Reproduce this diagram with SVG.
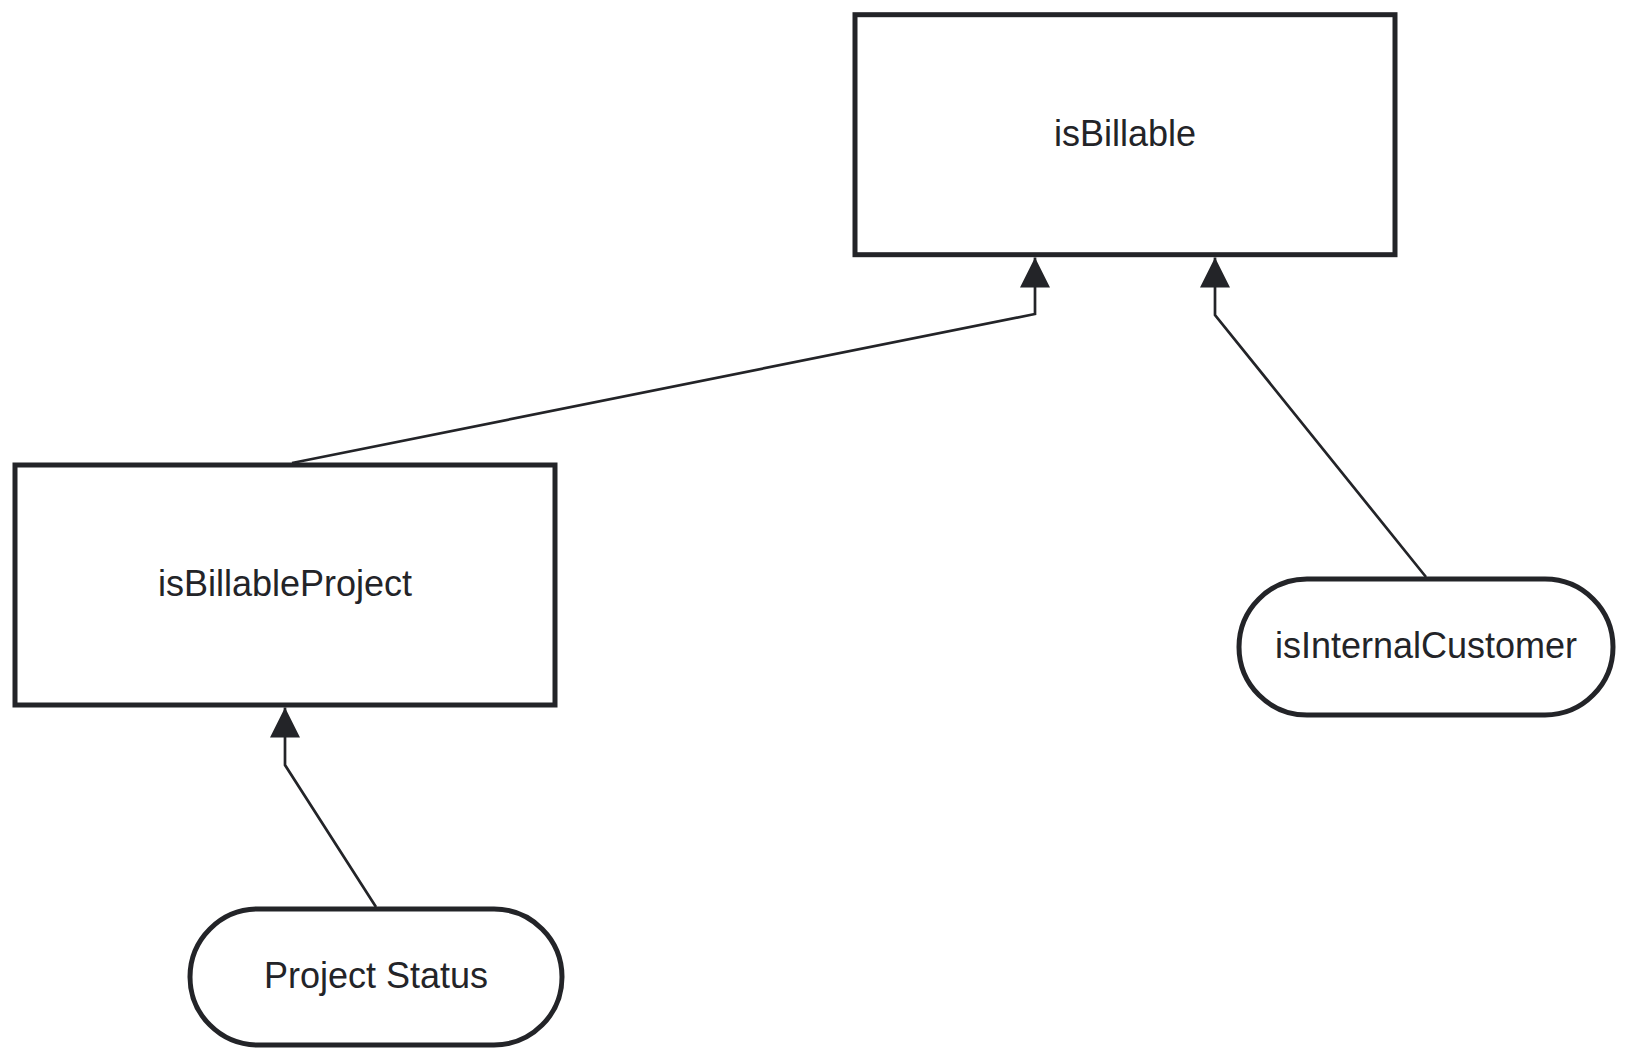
<svg xmlns="http://www.w3.org/2000/svg" width="1629" height="1059" viewBox="0 0 1629 1059">
  <style>
    .node { fill: #ffffff; stroke: #232428; stroke-width: 5; }
    .label { font-family: "Liberation Sans", Arial, sans-serif; font-size: 36px; fill: #232428; text-anchor: middle; }
    .edge { fill: none; stroke: #232428; stroke-width: 2.7; stroke-linejoin: miter; }
  </style>
  <defs>
    <marker id="arrow" markerUnits="userSpaceOnUse" markerWidth="30" markerHeight="30" viewBox="0 0 28 28" refX="28" refY="14" orient="auto">
      <path d="M0,0 L28,14 L0,28 Z" fill="#232428"/>
    </marker>
  </defs>
  <rect width="1629" height="1059" fill="#ffffff"/>
  <g id="connectors">
    <path class="edge" d="M 292 463 L 1035 314 L 1035 257.5" marker-end="url(#arrow)"/>
    <path class="edge" d="M 1426 577 L 1215 315 L 1215 257.5" marker-end="url(#arrow)"/>
    <path class="edge" d="M 376 907 L 285 765 L 285 707.5" marker-end="url(#arrow)"/>
  </g>
  <g id="node-isBillable">
    <rect class="node" x="855" y="14.7" width="540" height="240"/>
    <text class="label" x="1125" y="146">isBillable</text>
  </g>
  <g id="node-isBillableProject">
    <rect class="node" x="15" y="465" width="540" height="240"/>
    <text class="label" x="285" y="596">isBillableProject</text>
  </g>
  <g id="node-isInternalCustomer">
    <rect class="node" x="1239" y="579" width="374" height="136" rx="68" ry="68"/>
    <text class="label" x="1426" y="658">isInternalCustomer</text>
  </g>
  <g id="node-ProjectStatus">
    <rect class="node" x="190" y="909" width="372" height="136" rx="68" ry="68"/>
    <text class="label" x="376" y="988">Project Status</text>
  </g>
</svg>
